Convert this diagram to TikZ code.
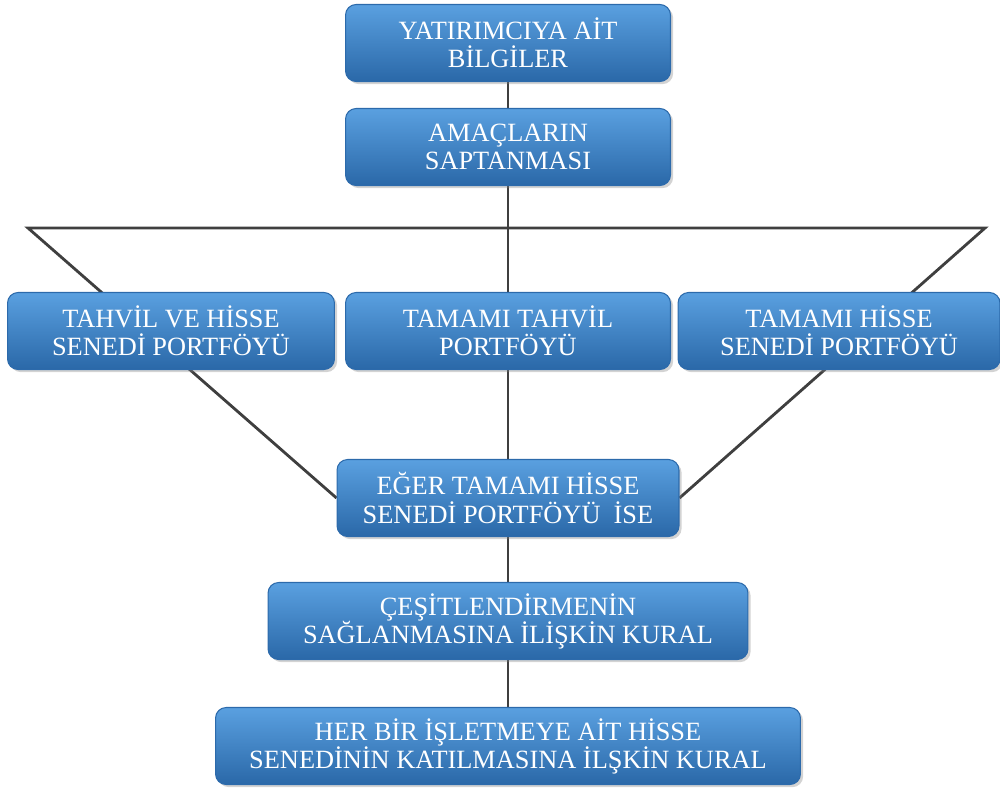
\documentclass[tikz,border=0pt]{standalone}
\usepackage{fontspec}
\setmainfont{Liberation Serif}
\usetikzlibrary{backgrounds,shadows}
\definecolor{kutuust}{HTML}{5AA0E0}
\definecolor{kutualt}{HTML}{2A68A8}
\definecolor{kutucizgi}{HTML}{2C6AAB}
\definecolor{hat}{HTML}{3F3F3F}
\tikzset{
  kutu/.style={rectangle, rounded corners=6pt, top color=kutuust, bottom color=kutualt,
    draw=kutucizgi, line width=0.6pt, text=white, align=center,
    minimum height=1.54cm, inner sep=2pt,
    font=\fontsize{15}{16}\selectfont,
    drop shadow={opacity=0.35, shadow xshift=1.5pt, shadow yshift=-1.5pt}},
  baglanti/.style={draw=hat, line width=1.6pt}
}
\begin{document}
\begin{tikzpicture}[x=0.02cm, y=-0.02cm]
            \useasboundingbox (0,0) rectangle (1000,792);
            % kutular
            \node[kutu, minimum width=6.5cm] (yatirimci) at (508,43) {YATIRIMCIYA AİT\\BİLGİLER};
            \node[kutu, minimum width=6.5cm] (amac) at (508,147) {AMAÇLARIN\\SAPTANMASI};
            \node[kutu, minimum width=6.54cm] (tahvilhisse) at (171,331) {TAHVİL VE HİSSE\\SENEDİ PORTFÖYÜ};
            \node[kutu, minimum width=6.5cm] (tamtahvil) at (508,331) {TAMAMI TAHVİL\\PORTFÖYÜ};
            \node[kutu, minimum width=6.44cm] (tamhisse) at (839,331) {TAMAMI HİSSE\\SENEDİ PORTFÖYÜ};
            \node[kutu, minimum width=6.84cm] (eger) at (508,498) {EĞER TAMAMI HİSSE\\SENEDİ PORTFÖYÜ \ İSE};
            \node[kutu, minimum width=9.6cm] (cesit) at (508,621) {ÇEŞİTLENDİRMENİN\\SAĞLANMASINA İLİŞKİN KURAL};
            \node[kutu, minimum width=11.7cm] (herbir) at (508,746) {HER BİR İŞLETMEYE AİT HİSSE\\SENEDİNİN KATILMASINA İLŞKİN KURAL};
            \coordinate (huniL) at (28,228);
            \coordinate (huniR) at (985,228);
            % hatlar
            \begin{scope}[on background layer]
            \draw[baglanti] (yatirimci) -- (amac) -- (tamtahvil) -- (eger) -- (cesit) -- (herbir);
            \draw[baglanti] (eger.west) -- (huniL) -- (huniR) -- (eger.east);
            \end{scope}
            \end{tikzpicture}
\end{document}
